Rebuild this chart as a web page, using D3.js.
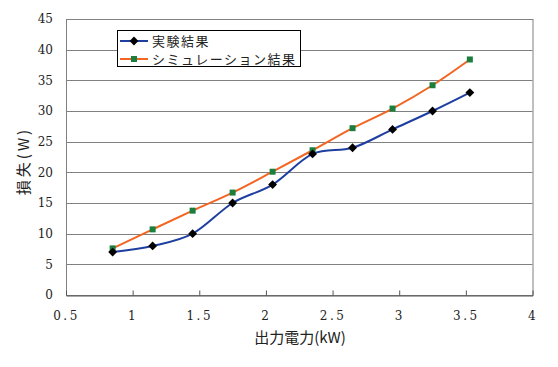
<!DOCTYPE html>
<html><head><meta charset="utf-8">
<script src="https://cdn.jsdelivr.net/npm/d3@7/dist/d3.min.js"></script>
<style>
body{margin:0;background:#fff;}
svg{display:block;}
.num{font-family:"DejaVu Serif","Liberation Serif",serif;font-size:12px;fill:#222;}
.jp{font-family:"Noto Sans CJK JP",sans-serif;fill:#222;}
</style></head>
<body>
<svg id="c" width="558" height="367"></svg>
<script>
const xValues = [0.85, 1.15, 1.45, 1.75, 2.05, 2.35, 2.65, 2.95, 3.25, 3.53];
const experimental = [7, 8, 10, 15, 18, 23, 24, 27, 30, 33];
const simulation = [7.6, 10.7, 13.75, 16.7, 20.1, 23.6, 27.2, 30.4, 34.2, 38.4];
const xTicks = [0.5, 1, 1.5, 2, 2.5, 3, 3.5, 4];
const yTicks = [0, 5, 10, 15, 20, 25, 30, 35, 40, 45];
const seriesNames = ["実験結果", "シミュレーション結果"];
const xTitle = "出力電力(kW)";
const yTitle = "損失(W)";

const svg = d3.select("#c");
const x = d3.scaleLinear().domain([0.5, 4]).range([66, 532.5]);
const y = d3.scaleLinear().domain([0, 45]).range([295, 19]);

// gridlines
svg.append("g").selectAll("line").data(yTicks.filter(d => d > 0)).join("line")
  .attr("x1", x(0.5)).attr("x2", x(4))
  .attr("y1", d => Math.round(y(d)) + 0.5).attr("y2", d => Math.round(y(d)) + 0.5)
  .attr("stroke", "#808080").attr("stroke-width", 1);

// frame
svg.append("rect").attr("x", x(0.5) + 0.5).attr("y", y(45) + 0.5)
  .attr("width", x(4) - x(0.5)).attr("height", y(0) - y(45))
  .attr("fill", "none").attr("stroke", "#808080");

// bottom axis with inward ticks
const xAxis = d3.axisBottom(x).tickValues(xTicks).tickSizeInner(-5).tickSizeOuter(0).tickPadding(16)
  .tickFormat(d => d3.format("")(d));
const gx = svg.append("g").attr("transform", `translate(0,${Math.round(y(0)) + 0.5})`).call(xAxis);
gx.select(".domain").attr("stroke", "#555");
gx.selectAll(".tick line").attr("stroke", "#555");
gx.selectAll(".tick text").attr("class", "num").attr("fill", "#222").attr("font-size", null).attr("font-family", null)
  .style("letter-spacing", "2.5px");

// left axis labels
const yAxis = d3.axisLeft(y).tickValues(yTicks).tickSize(0).tickPadding(13);
const gy = svg.append("g").attr("transform", `translate(${x(0.5)},0)`).call(yAxis);
gy.select(".domain").remove();
gy.selectAll(".tick text").attr("class", "num").attr("fill", "#222").attr("font-size", null).attr("font-family", null);

// titles
svg.append("text").attr("class", "jp").attr("x", 300).attr("y", 343)
  .attr("text-anchor", "middle").attr("font-size", 15).text(xTitle);
svg.append("text").attr("class", "jp").attr("transform", "translate(29,161) rotate(-90)")
  .attr("text-anchor", "middle").attr("font-size", 15).style("letter-spacing", "3px").text(yTitle);

// lines
const line = d3.line().x(d => x(d[0])).y(d => y(d[1])).curve(d3.curveCatmullRom.alpha(0));
const expData = xValues.map((v, i) => [v, experimental[i]]);
const simData = xValues.map((v, i) => [v, simulation[i]]);
const blue = "#1f3fa0", orange = "#f26522", green = "#1a7f3c";

svg.append("path").datum(simData).attr("d", line).attr("fill", "none").attr("stroke", orange).attr("stroke-width", 2);
svg.append("path").datum(expData).attr("d", line).attr("fill", "none").attr("stroke", blue).attr("stroke-width", 2);

svg.append("g").selectAll("rect").data(simData).join("rect")
  .attr("x", d => x(d[0]) - 3).attr("y", d => y(d[1]) - 3).attr("width", 6).attr("height", 6).attr("fill", green);
const diamond = d3.symbol().type(d3.symbolDiamond2).size(50);
svg.append("g").selectAll("path").data(expData).join("path")
  .attr("transform", d => `translate(${x(d[0])},${y(d[1])})`).attr("d", diamond).attr("fill", "#000");

// legend
const lg = svg.append("g");
lg.append("rect").attr("x", 117.5).attr("y", 30.5).attr("width", 183).attr("height", 36)
  .attr("fill", "#fff").attr("stroke", "#000");
const rows = [
  {name: seriesNames[0], color: blue, marker: "d", yy: 41},
  {name: seriesNames[1], color: orange, marker: "s", yy: 59}
];
rows.forEach(r => {
  lg.append("line").attr("x1", 120).attr("x2", 148).attr("y1", r.yy).attr("y2", r.yy)
    .attr("stroke", r.color).attr("stroke-width", 2);
  if (r.marker === "d") {
    lg.append("path").attr("transform", `translate(134,${r.yy})`).attr("d", diamond).attr("fill", "#000");
  } else {
    lg.append("rect").attr("x", 131).attr("y", r.yy - 3).attr("width", 6).attr("height", 6).attr("fill", green);
  }
  lg.append("text").attr("class", "jp").attr("x", 152).attr("y", r.yy + 5)
    .attr("font-size", 13).style("letter-spacing", "1.5px").text(r.name);
});
</script>
</body></html>
